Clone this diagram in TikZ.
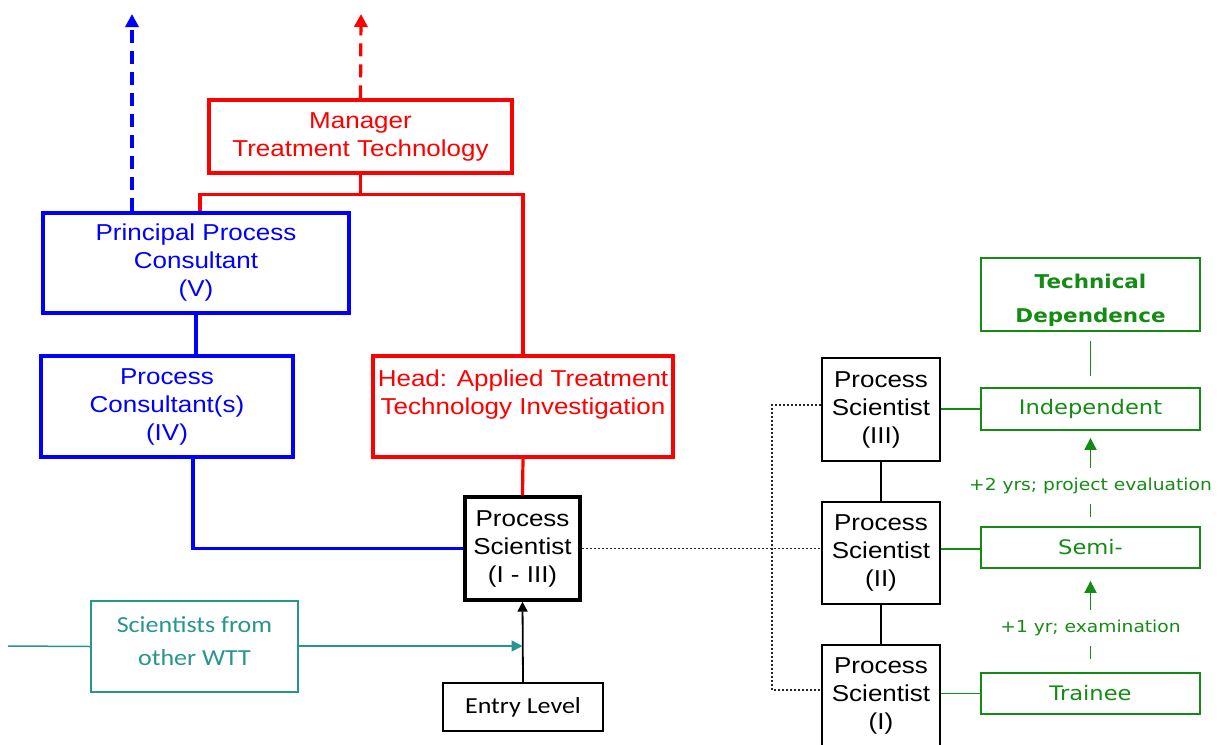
\documentclass[tikz,border=0pt]{standalone}
\usepackage{fontspec}
\setmainfont{Liberation Sans}[FakeStretch=1.13]
\newfontfamily\vfont{DejaVu Sans}[FakeStretch=1.13]
\newfontfamily\cfont{Carlito}[FakeStretch=1.13]
\usetikzlibrary{arrows.meta}
\definecolor{myred}{RGB}{255,0,0}
\definecolor{myblue}{RGB}{0,0,255}
\definecolor{mygreen}{RGB}{20,140,20}
\definecolor{myteal}{RGB}{40,150,140}
\newcommand\mainsz{\fontsize{23}{28}\selectfont}
\newcommand\greensz{\vfont\fontsize{20}{26}\selectfont}
\newcommand\labsz{\vfont\fontsize{16.5}{20}\selectfont}
\newcommand\techsz{\vfont\bfseries\fontsize{19}{34}\selectfont}
\newcommand\calsz{\cfont\fontsize{23}{33}\selectfont}
\tikzset{
  basebox/.style={rectangle, align=center, inner sep=0pt},
  redbox/.style={basebox, draw=myred, line width=3.2pt, text=myred, font=\mainsz},
  bluebox/.style={basebox, draw=myblue, line width=3.2pt, text=myblue, font=\mainsz},
  blackbox/.style={basebox, draw=black, line width=2pt, text=black, font=\mainsz},
  greenbox/.style={basebox, draw=mygreen, line width=1.8pt, text=mygreen, font=\greensz},
  tealbox/.style={basebox, draw=myteal, line width=1.6pt, text=myteal, font=\calsz},
  redline/.style={draw=myred, line width=3.2pt},
  blueline/.style={draw=myblue, line width=3.2pt},
  greenline/.style={draw=mygreen, line width=1.8pt},
  blackline/.style={draw=black, line width=2pt},
  dotline/.style={draw=black!85, line width=1.6pt, dash pattern=on 2pt off 2pt},
  dasharrow/.style={line width=3.2pt, dash pattern=on 13pt off 8pt, -{Triangle[length=13pt,width=13pt]}},
  lab/.style={fill=white, text=mygreen, font=\labsz, inner xsep=2pt, inner ysep=10pt},
}
\begin{document}
\begin{tikzpicture}[x=1pt,y=-1pt]
\useasboundingbox (0,0) rectangle (1220,744);
\clip (0,0) rectangle (1220,744);
\fill[white] (0,0) rectangle (1220,744);

% nodes
\node[redbox, minimum width=303, minimum height=73] (mgr) at (360.5,136.5) {Manager\\Treatment Technology};
\node[bluebox, minimum width=306, minimum height=100] (ppc) at (196,263) {Principal Process\\Consultant\\(V)};
\node[bluebox, minimum width=252, minimum height=101] (pc) at (167,406.5) {Process\\Consultant(s)\\(IV)};
\node[redbox, minimum width=300, minimum height=101] (head) at (523,406.5) {Head: Applied Treatment\\Technology Investigation\\~};
\node[blackbox, line width=3.4pt, minimum width=115, minimum height=103] (ps) at (522.5,548.5) {Process\\Scientist\\(I - III)};
\node[blackbox, line width=1.5pt, font=\calsz, minimum width=160, minimum height=48] (entry) at (523,707) {Entry Level};
\node[tealbox, minimum width=207, minimum height=91] (wtt) at (194.5,646.5) {Scientists from\\other WTT\\[-23pt]~};

\node[blackbox, minimum width=118, minimum height=103] (ps3) at (881,409.5) {Process\\Scientist\\(III)};
\node[blackbox, minimum width=118, minimum height=102] (ps2) at (881,553) {Process\\Scientist\\(II)};
\node[blackbox, minimum width=118, minimum height=102] (ps1) at (881,696) {Process\\Scientist\\(I)};

\node[greenbox, minimum width=219, minimum height=73] (tech) at (1090.5,294.5) {};
\node[text=mygreen, font=\techsz, align=center, inner sep=0pt] (techtxt) at ([yshift=-6]tech.center) {Technical\\Dependence};
\node[greenbox, minimum width=219, minimum height=42] (indep) at (1090.5,409) {Independent};
\node[greenbox, minimum width=219, minimum height=41] (semi) at (1090.5,547.5) {Semi-};
\node[greenbox, minimum width=219, minimum height=41] (trainee) at (1090.5,693.5) {Trainee};

% coordinates
\coordinate (mtop) at (361,14);
\coordinate (btop) at (132,14);
\coordinate (bx) at (193,0);
\coordinate (tl) at (8,646);
\coordinate (dv) at (772,549);

% red connectors
\draw[redline] (mgr.south) -- ++(0,20) coordinate (j);
\draw[redline] (j) -| (ppc.north -| 200,0);
\draw[redline] (j) -| (head.north);
\draw[redline] (head.south) -- (ps.north);
\draw[dasharrow, myred] (mgr.north) -- (mtop);

% blue connectors
\draw[dasharrow, myblue] (ppc.north -| btop) -- (btop);
\draw[blueline] (ppc.south) -- (ppc.south |- pc.north);
\draw[blueline] (pc.south -| bx) |- (ps.west);

% entry and teal
\draw[line width=1.8pt, -{Triangle[length=10pt,width=10pt]}] (entry.north) -- (ps.south);
\draw[draw=myteal, line width=1.5pt] (tl) -- (wtt.west);
\draw[draw=myteal, line width=1.5pt, -{Triangle[length=11pt,width=11pt]}] (wtt.east |- tl) -- (ps.south |- tl);

% dotted
\draw[dotline] (ps.east) -- (ps2.west |- ps.east);
\draw[dotline] (ps3.west |- 0,405) -| (dv |- 0,690) -- (ps1.west |- 0,690);

% black chain
\draw[blackline] (ps3.south) -- (ps2.north);
\draw[blackline] (ps2.south) -- (ps1.north);

% green
\draw[greenline] (ps3.east |- indep.west) -- (indep.west);
\draw[greenline] (ps2.east |- 0,549) -- (semi.west |- 0,549);
\draw[greenline] (ps1.east |- trainee.west) -- (trainee.west);
\draw[greenline, shorten <=9pt, shorten >=11pt] (tech.south) -- (indep.north);
\draw[greenline, shorten <=9pt, shorten >=7pt, -{Triangle[length=12pt,width=12pt]}] (semi.north) -- node[lab, pos=0.42] {+2 yrs; project evaluation} (indep.south);
\draw[greenline, shorten <=13pt, shorten >=12pt, -{Triangle[length=12pt,width=12pt]}] (trainee.north) -- node[lab, pos=0.43] {+1 yr; examination} (semi.south);
\end{tikzpicture}
\end{document}
